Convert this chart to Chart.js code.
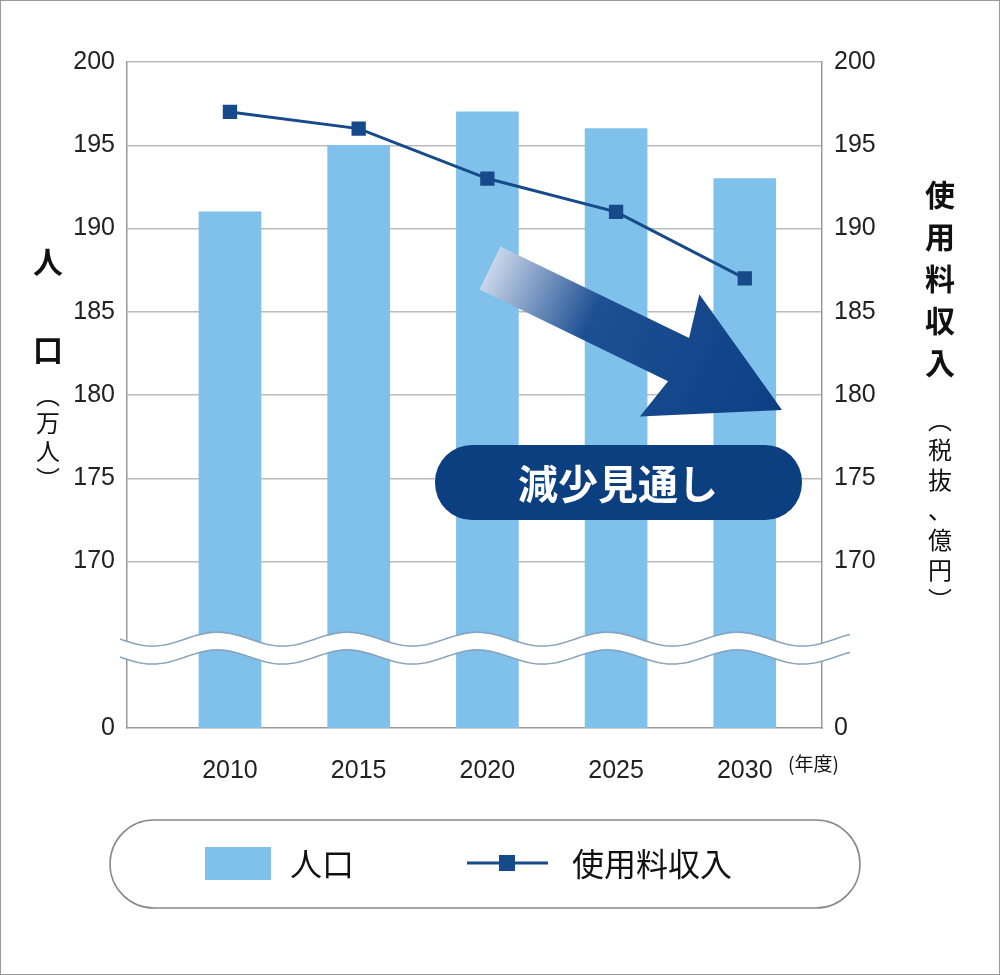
<!DOCTYPE html>
<html><head><meta charset="utf-8">
<script src="https://cdn.jsdelivr.net/npm/chart.js@4/dist/chart.umd.min.js"></script>
<style>html,body{margin:0;padding:0;background:#fff}#w{width:1000px;height:975px}</style>
</head><body><div id="w"><canvas id="c"></canvas></div>
<script>
const years = [2010, 2015, 2020, 2025, 2030];
const population = [191, 195, 197, 196, 193];
const revenue = [197, 196, 193, 191, 187];
const yTicks = [160, 170, 175, 180, 185, 190, 195, 200];
const tickLabel = v => v === 160 ? '0' : String(v);
const NUM = '"Liberation Sans", Arial, sans-serif';
const JP = '"Noto Sans CJK JP", sans-serif';

const deco = {
  id: 'deco',
  afterDatasetsDraw(chart) {
    const ctx = chart.ctx;
    ctx.save();
    const yb = chart.scales.y.getPixelForValue(164.8);
    const wave = (off) => { ctx.beginPath(); for (let x = 120; x <= 850; x += 2) { const y = yb + off + 7 * Math.sin((x - 120) / 130 * 2 * Math.PI); x === 120 ? ctx.moveTo(x, y) : ctx.lineTo(x, y); } };
    ctx.strokeStyle = '#fff'; ctx.lineWidth = 16; wave(0); ctx.stroke();
    ctx.strokeStyle = '#8aa3bd'; ctx.lineWidth = 1.5; wave(-9); ctx.stroke(); wave(9); ctx.stroke();
    ctx.save();
    ctx.translate(490, 268);
    ctx.rotate(Math.atan2(410 - 268, 782 - 490));
    const L = Math.hypot(782 - 490, 410 - 268);
    const g = ctx.createLinearGradient(0, 0, L, 0);
    g.addColorStop(0, '#c9d6ea'); g.addColorStop(0.35, '#1d4f93'); g.addColorStop(1, '#0d3f84');
    ctx.fillStyle = g;
    ctx.beginPath();
    ctx.moveTo(0, -24); ctx.lineTo(L - 115, -24); ctx.lineTo(L - 125, -68);
    ctx.lineTo(L, 0); ctx.lineTo(L - 125, 68); ctx.lineTo(L - 115, 24); ctx.lineTo(0, 24); ctx.closePath();
    ctx.fill();
    ctx.restore();
    ctx.fillStyle = '#0b3f7f';
    ctx.beginPath(); ctx.roundRect(435, 445, 367, 75, 37); ctx.fill();
    ctx.fillStyle = '#fff'; ctx.font = 'bold 40px ' + JP; ctx.textAlign = 'center'; ctx.textBaseline = 'middle';
    ctx.fillText('減少見通し', 618, 484);
    ctx.restore();
  },
  afterDraw(chart) {
    const ctx = chart.ctx;
    ctx.save();
    ctx.fillStyle = '#111'; ctx.textAlign = 'center'; ctx.textBaseline = 'middle';
    ctx.font = 'bold 30px ' + JP;
    ctx.fillText('人', 48, 262); ctx.fillText('口', 48, 350);
    ctx.font = '24px ' + JP;
    ['︵', '万', '人', '︶'].forEach((c, i) => ctx.fillText(c, 48, 395 + i * 28));
    ctx.font = 'bold 30px ' + JP;
    ['使', '用', '料', '収', '入'].forEach((c, i) => ctx.fillText(c, 940, 195 + i * 42));
    ctx.font = '24px ' + JP;
    ['︵', '税', '抜', '、', '億', '円', '︶'].forEach((c, i) => ctx.fillText(c, 940, 420 + i * 30));
    ctx.font = '19px ' + JP; ctx.textAlign = 'left';
    ctx.fillText('(年度)', 788, 764);
    ctx.strokeStyle = '#888'; ctx.lineWidth = 1.5;
    ctx.beginPath(); ctx.roundRect(110, 820, 750, 88, 44); ctx.stroke();
    ctx.fillStyle = '#7fc1ea'; ctx.fillRect(205, 847, 66, 33);
    ctx.fillStyle = '#111'; ctx.font = '32px ' + JP; ctx.fillText('人口', 290, 864);
    ctx.strokeStyle = '#174a8a'; ctx.lineWidth = 3;
    ctx.beginPath(); ctx.moveTo(467, 863); ctx.lineTo(548, 863); ctx.stroke();
    ctx.fillStyle = '#174a8a'; ctx.fillRect(499, 855, 16, 16);
    ctx.fillStyle = '#111'; ctx.fillText('使用料収入', 572, 864);
    ctx.strokeStyle = '#999'; ctx.lineWidth = 1; ctx.strokeRect(0.5, 0.5, 999, 974);
    ctx.restore();
  }
};

const yScale = (pos) => ({
  type: 'linear', position: pos, min: 160, max: 200,
  afterBuildTicks: s => { s.ticks = yTicks.map(v => ({ value: v })); },
  afterFit: s => { s.width = pos === 'left' ? 127 : 178; },
  grid: { display: pos === 'left', color: c => c.tick && c.tick.value === 160 ? 'rgba(0,0,0,0)' : '#bbbbbb', lineWidth: 1.5, drawTicks: false },
  border: { display: true, color: '#999', width: 1.5 },
  ticks: { callback: v => tickLabel(v), color: '#222', font: { family: NUM, size: 25 }, padding: pos === 'left' ? 12 : 12 }
});

new Chart(document.getElementById('c'), {
  data: {
    datasets: [
      { type: 'line', label: '使用料収入', data: years.map((x, i) => ({ x, y: revenue[i] })), yAxisID: 'y2', borderColor: '#174a8a', backgroundColor: '#174a8a', borderWidth: 3, pointStyle: 'rect', pointRadius: 8, pointHoverRadius: 8 },
      { type: 'bar', label: '人口', data: years.map((x, i) => ({ x, y: population[i] })), yAxisID: 'y', backgroundColor: '#7fc1ea', barThickness: 62 }
    ]
  },
  options: {
    responsive: true, maintainAspectRatio: false, animation: false,
    layout: { padding: { top: 62, left: 0, right: 0, bottom: 0 } },
    plugins: { legend: { display: false }, tooltip: { enabled: false } },
    scales: {
      x: {
        type: 'linear', min: 2006, max: 2033, offset: false,
        afterBuildTicks: s => { s.ticks = years.map(v => ({ value: v })); },
        afterFit: s => { s.height = 247; },
        grid: { display: false, offset: false }, border: { display: true, color: '#999', width: 1.5 },
        ticks: { callback: v => String(v), color: '#222', font: { family: NUM, size: 25 }, padding: 20 }
      },
      y: yScale('left'),
      y2: yScale('right')
    }
  },
  plugins: [deco]
});
</script></body></html>
